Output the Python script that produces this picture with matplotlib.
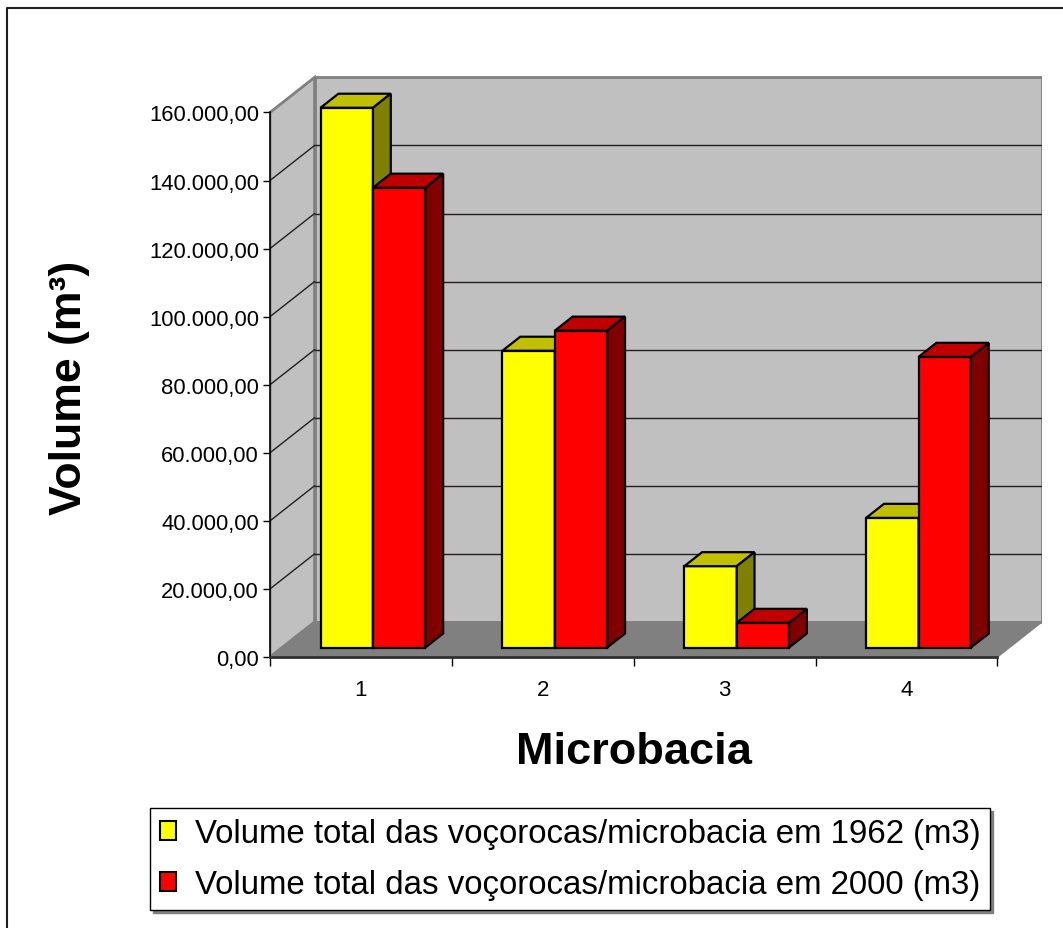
import matplotlib.pyplot as plt
from matplotlib.patches import Polygon, Patch
from matplotlib.lines import Line2D

plt.rcParams['font.family'] = ['Liberation Sans', 'DejaVu Sans']

# Volume of gullies per micro-basin (m3)
microbacias = ["1", "2", "3", "4"]
vol_1962 = [158600, 87200, 23900, 38100]
vol_2000 = [135100, 93100, 7250, 85400]
series_labels = ["Volume total das voçorocas/microbacia em 1962 (m3)",
                 "Volume total das voçorocas/microbacia em 2000 (m3)"]
y_ticks = list(range(0, 160001, 20000))

# face colours for each series: front, top, side
face_colors = [("#FFFF00", "#C0C000", "#808000"),
               ("#FF0000", "#C00000", "#800000")]

W, H = 1063, 929
fig = plt.figure(figsize=(W / 100, H / 100), dpi=100)
ax = fig.add_axes([270 / W, 1 - 658 / H, 772 / W, 582 / H])

n = len(microbacias)
ymax = y_ticks[-1]
DX, DY = 0.245, 10300          # depth offset of the 3d box
f1, f2 = 0.27, 0.67            # bar front / back position in depth
bw = 0.288                     # bar width

ax.set_xlim(0, n + DX)
ax.set_ylim(0, 171000)

# walls and floor
ax.add_patch(Polygon([(DX, DY), (n + DX, DY), (n + DX, ymax + DY), (DX, ymax + DY)],
                     closed=True, fc="#C0C0C0", ec="#808080", lw=2, zorder=1))
ax.add_patch(Polygon([(0, 0), (DX, DY), (DX, ymax + DY), (0, ymax)],
                     closed=True, fc="#C0C0C0", ec="#808080", lw=2, zorder=1))
ax.add_patch(Polygon([(0, 0), (n, 0), (n + DX, DY), (DX, DY)],
                     closed=True, fc="#808080", ec="#808080", lw=1, zorder=1))

# gridlines on back and side walls
for v in y_ticks[1:-1]:
    ax.plot([DX, n + DX], [v + DY, v + DY], color="#202020", lw=1, zorder=2)
    ax.plot([0, DX], [v, v + DY], color="#202020", lw=1, zorder=2)


def draw_bar(x0, v, colors):
    front, top, side = colors
    a, b = x0 + f1 * DX, x0 + bw + f1 * DX
    c, d = x0 + f2 * DX, x0 + bw + f2 * DX
    y1, y2 = f1 * DY, f2 * DY
    kw = dict(closed=True, ec="black", lw=1.6, joinstyle="miter", zorder=3)
    ax.add_patch(Polygon([(a, y1), (b, y1), (b, v + y1), (a, v + y1)], fc=front, **kw))
    ax.add_patch(Polygon([(a, v + y1), (b, v + y1), (d, v + y2), (c, v + y2)], fc=top, **kw))
    ax.add_patch(Polygon([(b, y1), (d, y2), (d, v + y2), (b, v + y1)], fc=side, **kw))


for i in range(n):
    for s, vals in enumerate([vol_1962, vol_2000]):
        draw_bar(i + 0.5 - bw + s * bw, vals[i], face_colors[s])

# axes
for side in ["top", "right"]:
    ax.spines[side].set_visible(False)
ax.spines["left"].set_bounds(0, ymax)
ax.spines["bottom"].set_bounds(0, n)
ax.spines["left"].set_linewidth(1.2)
ax.spines["bottom"].set_linewidth(2)
ax.spines["bottom"].set_color("#303030")
ax.spines["left"].set_zorder(4)
ax.spines["bottom"].set_zorder(4)


def fmt(v):
    return f"{v:,.2f}".replace(",", "X").replace(".", ",").replace("X", ".")


ax.set_yticks(y_ticks)
ax.set_yticklabels([fmt(v) for v in y_ticks], fontsize=15.8)
ax.tick_params(axis="y", length=5, width=1, pad=3)
ax.set_xticks(range(n + 1))
ax.set_xticklabels([])
ax.tick_params(axis="x", which="major", length=6.5, width=1)
ax.set_xticks([i + 0.5 for i in range(n)], minor=True)
ax.set_xticklabels(microbacias, minor=True, fontsize=16)
ax.tick_params(axis="x", which="minor", length=0, pad=16)

fig.text(69 / W, 1 - 388 / H, "Volume (m³)", rotation=90, fontsize=32,
         fontweight="bold", ha="center", va="center")
fig.text(634 / W, 1 - 752 / H, "Microbacia", fontsize=32.5,
         fontweight="bold", ha="center", va="center")

handles = [Patch(fc=face_colors[s][0], ec="black", lw=1.5) for s in range(2)]
fig.legend(handles, series_labels, loc="center", bbox_to_anchor=(570 / W, 1 - 860 / H),
           fontsize=23.8, frameon=True, fancybox=False, framealpha=1,
           edgecolor="black", handlelength=0.5, handleheight=0.5,
           handletextpad=0.55, labelspacing=0.6, borderpad=0.3,
           shadow={"color": "0.5", "alpha": 1})

# outer chart border
fig.add_artist(Line2D([7 / W, 7 / W, 1.01], [-0.01, 1 - 9 / H, 1 - 9 / H],
                      color="#202020", lw=1.5))

fig.savefig("out.png", dpi=100)
